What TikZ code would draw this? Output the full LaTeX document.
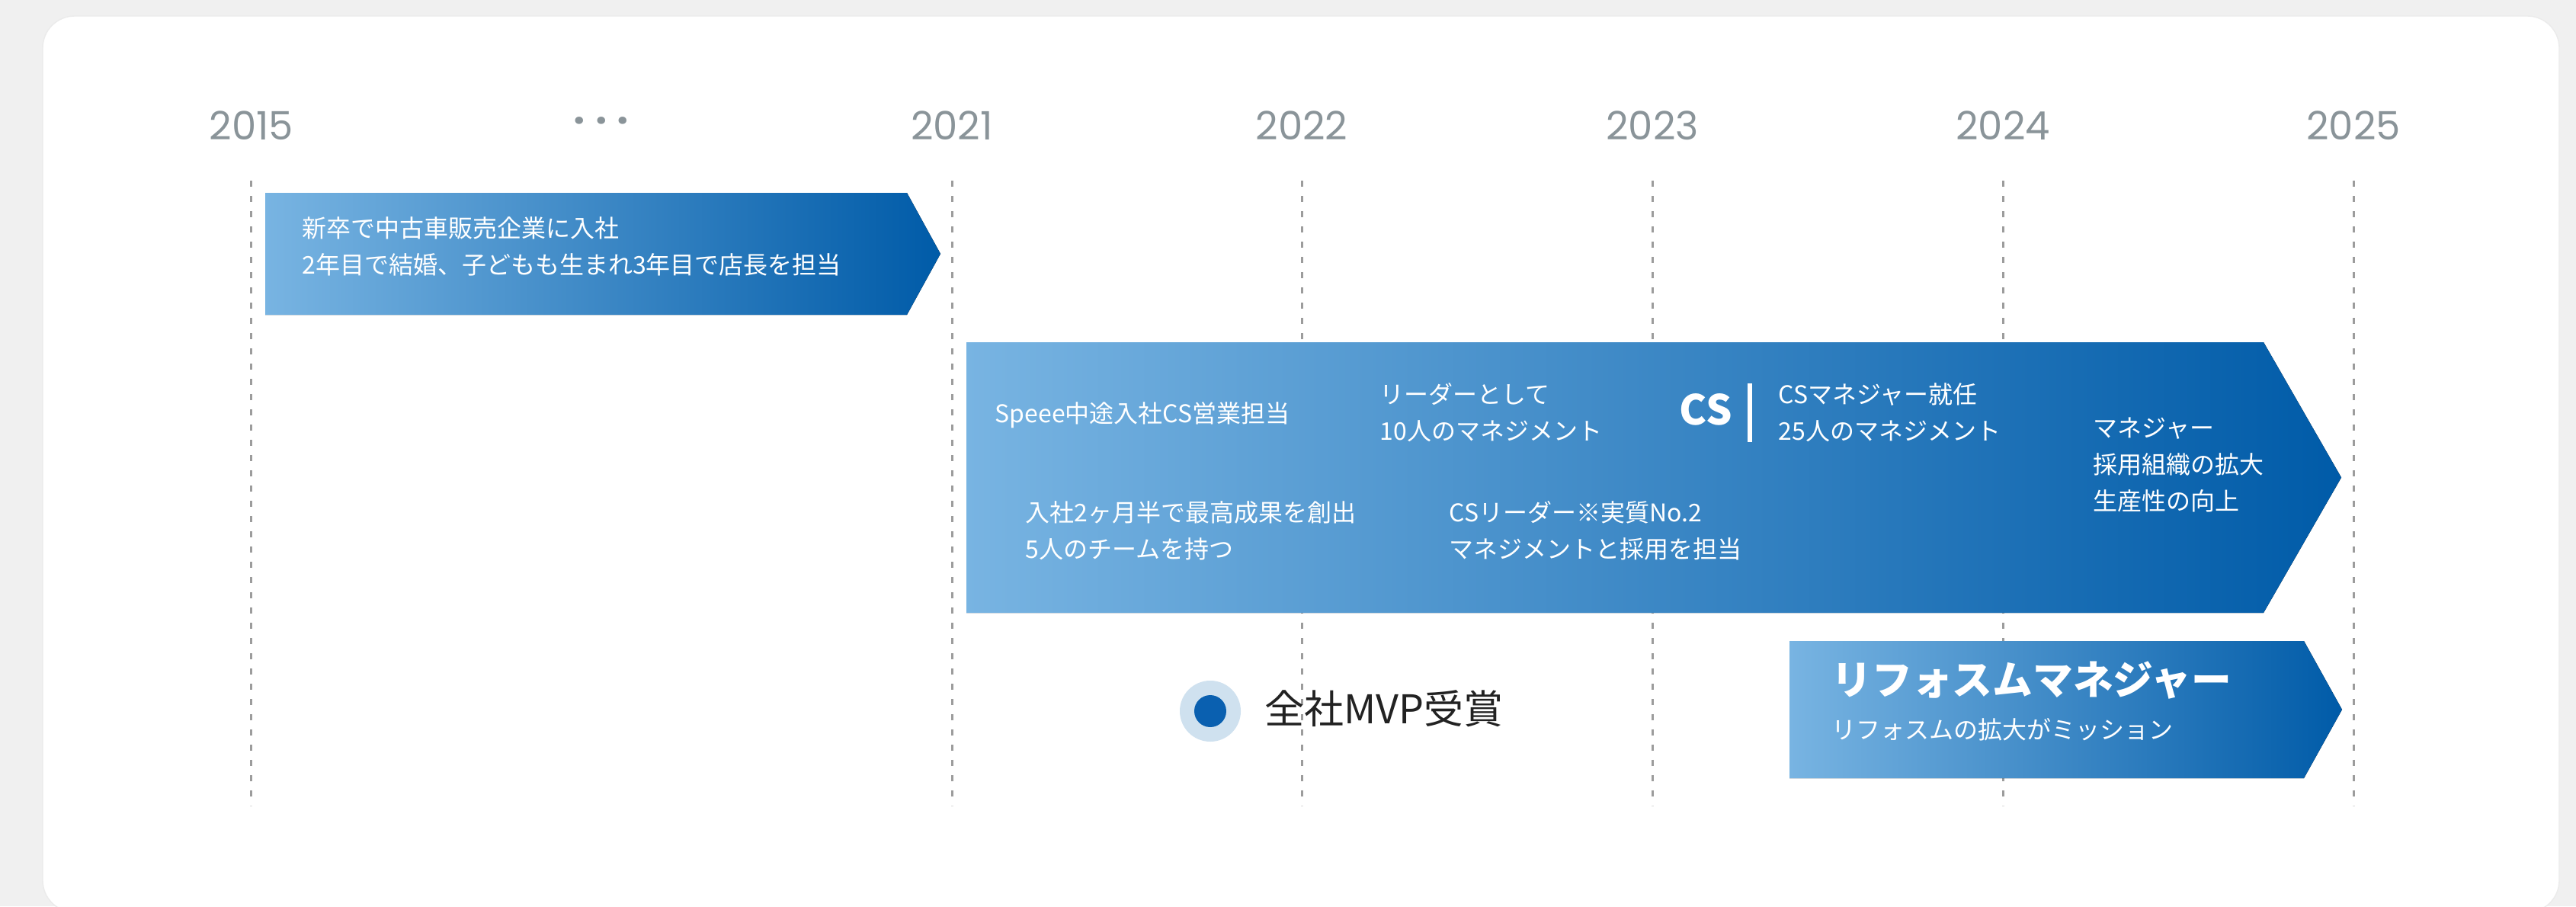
\documentclass[tikz,border=0pt]{standalone}
\usepackage{fontspec}
\setmainfont{Noto Sans CJK JP}
\newfontfamily\yearfont{Poppins}
\usepackage{xcolor}
\definecolor{tlpage}{HTML}{F0F0F0}
\definecolor{tlyeargray}{HTML}{8A9499}
\definecolor{tldash}{HTML}{9C9C9C}
\definecolor{tllight}{HTML}{78B4E2}
\definecolor{tldark}{HTML}{005BA8}
\definecolor{tldotbg}{HTML}{CFE1EF}
\definecolor{tldot}{HTML}{0A60B0}
\definecolor{tltext}{HTML}{222222}
\usetikzlibrary{positioning,calc}

\begin{document}
\begin{tikzpicture}[
  tlyear/.style={font=\yearfont\fontsize{14.6}{16}\selectfont,text=tlyeargray,inner sep=0pt},
  tlguide/.style={draw=tldash,line width=0.03cm,dash pattern=on 0.08cm off 0.12cm},
  tlstage/.style={left color=tllight,right color=tldark,draw=none},
  tlnote/.style={anchor=west,align=left,text=white,inner sep=0pt,
    font=\fontsize{9.1}{13.6}\selectfont},
  tlhead/.style={anchor=west,text=white,inner sep=0pt,font=\bfseries\fontsize{15}{18}\selectfont}
]
  \useasboundingbox (0,0) rectangle (33.80,-11.89);
  % page and card
  \fill[tlpage] (0,0) rectangle (33.80,-11.89);
  \fill[white,draw=black!8,line width=0.4pt,rounded corners=0.42cm] (0.56,-0.21) rectangle (33.58,-11.97);

  % years
  \node[tlyear] (y2015) at (3.30,-1.65) {2015};
  \node[tlyear,font=\yearfont\bfseries\fontsize{14.6}{16}\selectfont] (gap) at (7.89,-1.64)
    {·\hspace{0.13cm}·\hspace{0.13cm}·};
  \node[tlyear] (y2021) at (12.49,-1.65) {2021};
  \node[tlyear] (y2022) at (17.08,-1.65) {2022};
  \node[tlyear] (y2023) at (21.68,-1.65) {2023};
  \node[tlyear] (y2024) at (26.28,-1.65) {2024};
  \node[tlyear] (y2025) at (30.88,-1.65) {2025};

  % guide lines
  \draw[tlguide] (3.29,-2.37) -- (3.29,-10.57);
  \draw[tlguide] (12.49,-2.37) -- (12.49,-10.57);
  \draw[tlguide] (17.08,-2.37) -- (17.08,-10.57);
  \draw[tlguide] (21.68,-2.37) -- (21.68,-10.57);
  \draw[tlguide] (26.28,-2.37) -- (26.28,-10.57);
  \draw[tlguide] (30.88,-2.37) -- (30.88,-10.57);

  % first job
  \fill[tlstage] (3.48,-2.53) -- (11.90,-2.53) -- (12.34,-3.33) -- (11.90,-4.13) -- (3.48,-4.13) -- cycle;
  \node[tlnote] (shop) at (3.96,-3.235) {新卒で中古車販売企業に入社\\
    2年目で結婚、子どもも生まれ3年目で店長を担当};

  % Speee
  \fill[tlstage] (12.68,-4.49) -- (29.70,-4.49) -- (30.72,-6.265) -- (29.70,-8.04) -- (12.68,-8.04) -- cycle;
  \node[tlnote] (join) at (13.05,-5.45) {Speee中途入社CS営業担当};
  \node[tlnote] (lead) at (18.10,-5.41) {リーダーとして\\10人のマネジメント};
  \node[tlhead,font=\bfseries\fontsize{15.4}{18}\selectfont] (cs) at (22.03,-5.37) {CS};
  \draw[white,line width=0.06cm] (22.96,-5.03) -- (22.96,-5.80);
  \node[tlnote] (csmgr) at (23.33,-5.41) {CSマネジャー就任\\25人のマネジメント};
  \node[tlnote] (mgr) at (27.46,-6.10) {マネジャー\\採用組織の拡大\\生産性の向上};
  \node[tlnote] (best) at (13.45,-6.965) {入社2ヶ月半で最高成果を創出\\5人のチームを持つ};
  \node[tlnote] (second) at (19.01,-6.965) {CSリーダー※実質No.2\\マネジメントと採用を担当};

  % reform
  \fill[tlstage] (23.48,-8.41) -- (30.23,-8.41) -- (30.73,-9.31) -- (30.23,-10.21) -- (23.48,-10.21) -- cycle;
  \node[tlhead] (reform) at (24.03,-8.93) {リフォスムマネジャー};
  \node[tlnote] (mission) at (24.03,-9.57) {リフォスムの拡大がミッション};

  % award
  \fill[tldotbg] (15.88,-9.33) circle (0.40);
  \fill[tldot] (15.88,-9.33) circle (0.21);
  \node[anchor=west,inner sep=0pt,text=tltext,font=\fontsize{14.8}{18}\selectfont] (mvp) at (16.59,-9.30) {全社MVP受賞};
\end{tikzpicture}
\end{document}
